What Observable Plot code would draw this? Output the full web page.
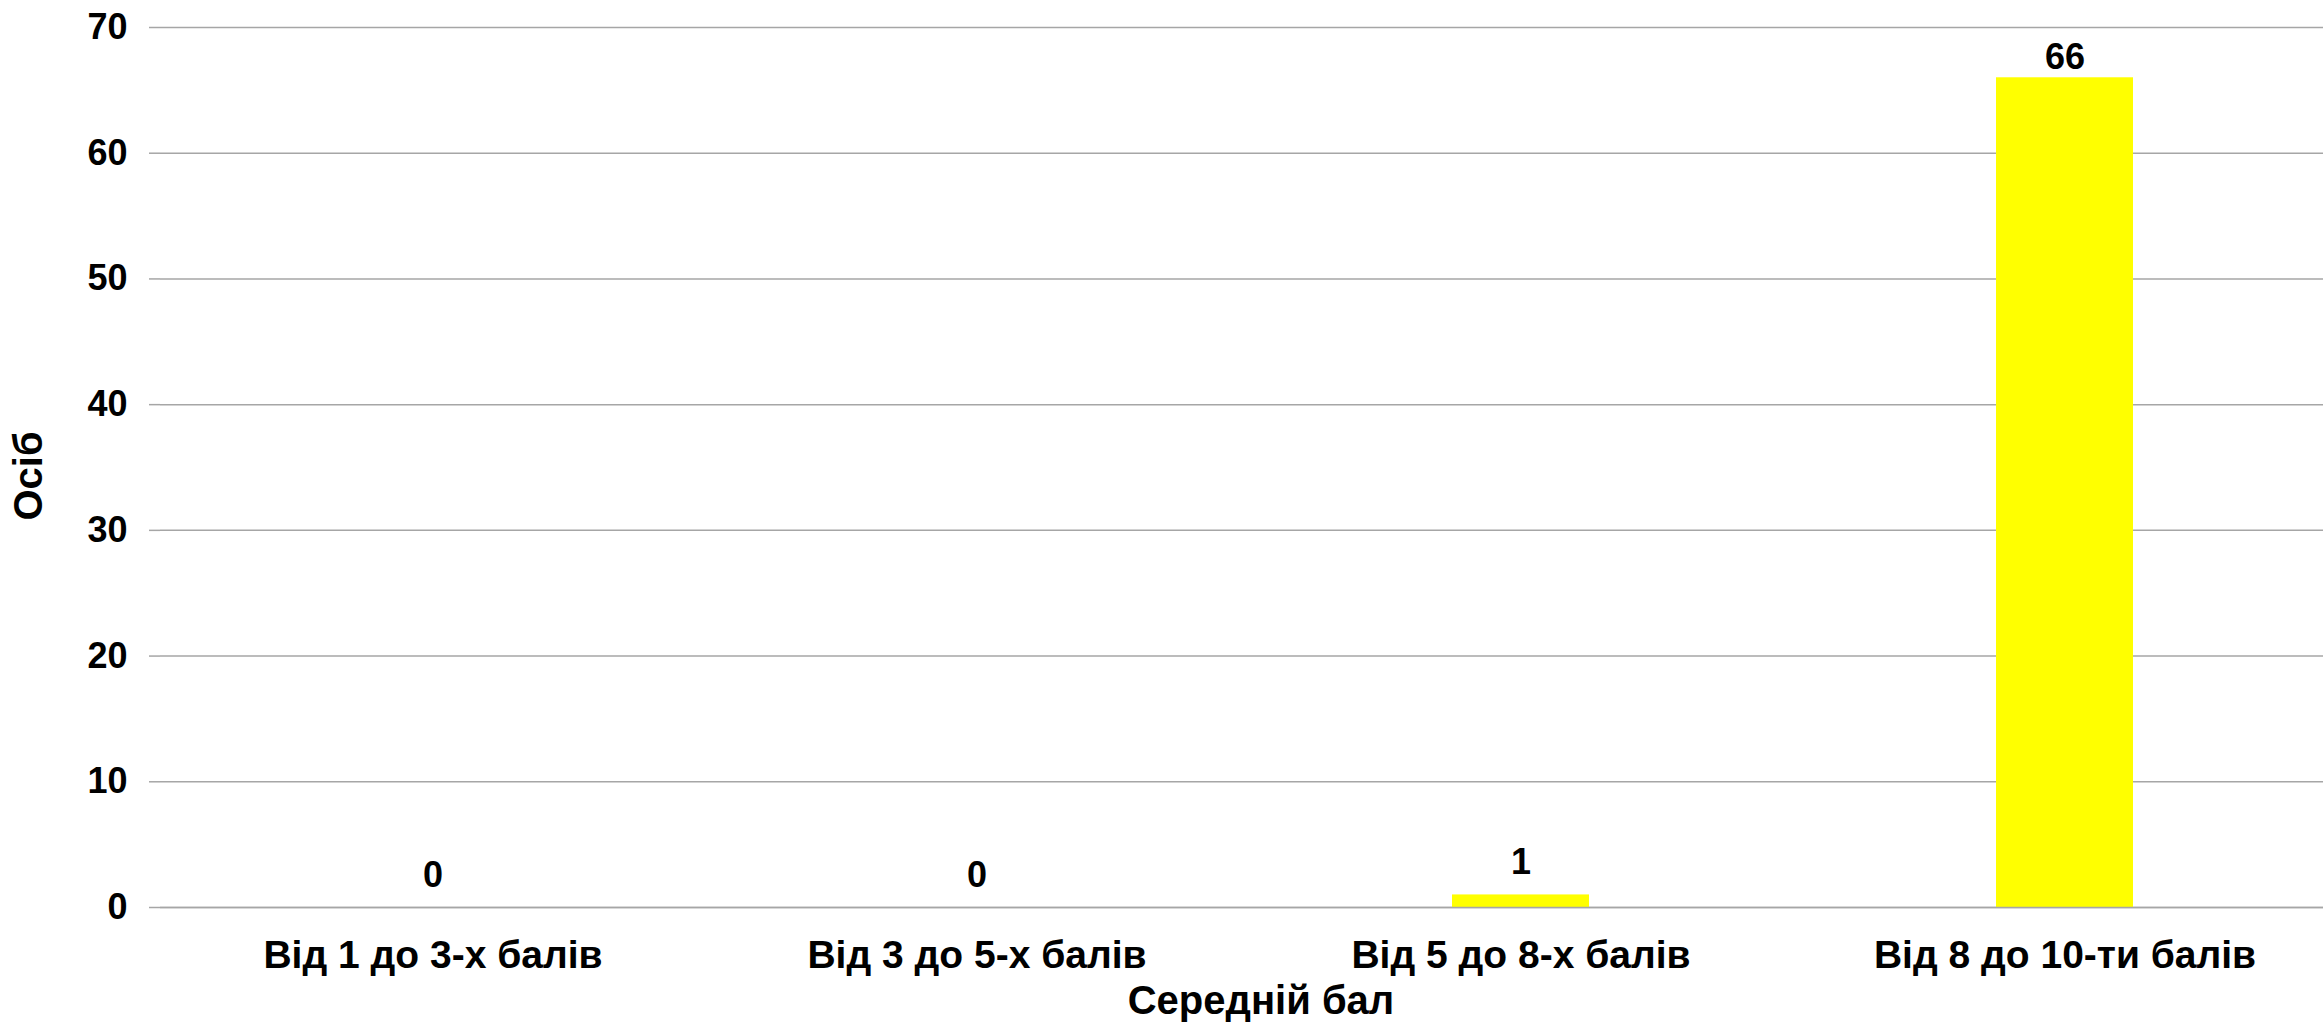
<!DOCTYPE html>
<html>
<head>
<meta charset="utf-8">
<script src="https://cdn.jsdelivr.net/npm/d3@7"></script>
<script src="https://cdn.jsdelivr.net/npm/@observablehq/plot@0.6"></script>
<style>
  html, body { margin: 0; padding: 0; background: #fff; }
  #chart svg { display: block; }
</style>
</head>
<body>
<div id="chart"></div>
<script>
const categories = ["Від 1 до 3-х балів", "Від 3 до 5-х балів", "Від 5 до 8-х балів", "Від 8 до 10-ти балів"];
const values = [0, 0, 1, 66];
const yTicks = [0, 10, 20, 30, 40, 50, 60, 70];
const xTitle = "Середній бал";
const yTitle = "Осіб";

const data = categories.map((c, i) => ({category: c, value: values[i]}));
const grid = "#a6a6a6";
const font = "'Liberation Sans', Arial, sans-serif";

const chart = Plot.plot({
  width: 2323,
  height: 1022,
  marginLeft: 160,
  marginRight: 0,
  marginTop: 27,
  marginBottom: 115,
  style: {fontFamily: font, fontWeight: "bold", fontSize: "36px", color: "#000", background: "#fff"},
  x: {domain: categories, range: [160, 2338], paddingInner: 0.748, paddingOuter: 0.374, align: 0.5},
  y: {domain: [0, 70], ticks: yTicks},
  marks: [
    Plot.ruleY(yTicks, {stroke: grid, strokeWidth: 1.5}),
    Plot.ruleX([0], {frameAnchor: "left", stroke: grid, strokeWidth: 1.5}),
    Plot.axisY(yTicks, {tickSize: 11, tickPadding: 22, stroke: grid, strokeWidth: 1.5, strokeOpacity: 1, label: null, fontSize: 36}),
    Plot.axisX({tickSize: 0, tickPadding: 33, label: null, fontSize: 39}),
    Plot.barY(data, {x: "category", y: "value", fill: "#ffff00"}),
    Plot.ruleY([0], {stroke: grid, strokeWidth: 1.5}),
    Plot.text(data.filter(d => d.value < 60), {x: "category", y: "value", text: d => String(d.value), lineAnchor: "middle", dy: -32, fontSize: 36}),
    Plot.text(data.filter(d => d.value >= 60), {x: "category", y: "value", text: d => String(d.value), lineAnchor: "middle", dy: -20, fontSize: 36}),
    Plot.text([xTitle], {frameAnchor: "bottom", dx: 19, dy: 94, lineAnchor: "middle", fontSize: 40}),
    Plot.text([yTitle], {frameAnchor: "left", dx: -131, dy: 53, rotate: -90, lineAnchor: "middle", fontSize: 40})
  ]
});
chart.style.overflow = "visible";
document.getElementById("chart").append(chart);
</script>
</body>
</html>
